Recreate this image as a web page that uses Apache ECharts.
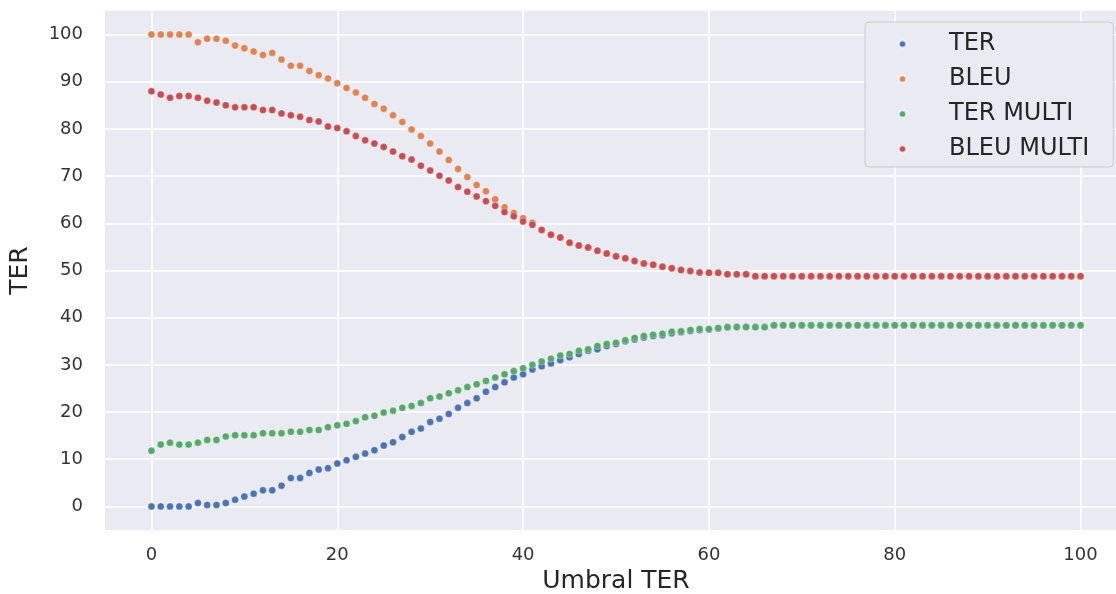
<!DOCTYPE html>
<html>
<head>
<meta charset="utf-8">
<title>TER / BLEU</title>
<script src="https://cdn.jsdelivr.net/npm/echarts@6/dist/echarts.min.js"></script>
<style>
  html, body { margin: 0; padding: 0; background: #ffffff; }
  #chart { width: 1116px; height: 594px; }
</style>
</head>
<body>
<div id="chart"></div>
<script>
// umbral TER (eje x)
var umbral = [
  0, 1, 2, 3, 4, 5, 6, 7, 8, 9,
  10, 11, 12, 13, 14, 15, 16, 17, 18, 19,
  20, 21, 22, 23, 24, 25, 26, 27, 28, 29,
  30, 31, 32, 33, 34, 35, 36, 37, 38, 39,
  40, 41, 42, 43, 44, 45, 46, 47, 48, 49,
  50, 51, 52, 53, 54, 55, 56, 57, 58, 59,
  60, 61, 62, 63, 64, 65, 66, 67, 68, 69,
  70, 71, 72, 73, 74, 75, 76, 77, 78, 79,
  80, 81, 82, 83, 84, 85, 86, 87, 88, 89,
  90, 91, 92, 93, 94, 95, 96, 97, 98, 99,
  100
];

var ter = [
  0, 0, 0, 0, 0, 0.7, 0.3, 0.3, 0.7, 1.4,
  2.1, 2.7, 3.4, 3.4, 4.4, 6.0, 6.0, 7.1, 7.8, 8.1,
  9.1, 9.8, 10.5, 11.2, 11.9, 12.9, 13.6, 14.7, 15.8, 16.5,
  17.9, 18.6, 19.6, 20.9, 21.9, 22.9, 24.3, 25.3, 26.3, 27.3,
  28.0, 29.0, 29.7, 30.3, 31.0, 31.6, 32.3, 33.0, 33.3, 34.0,
  34.4, 35.0, 35.4, 35.8, 36.1, 36.3, 36.7, 36.9, 37.2, 37.4,
  37.5, 37.7, 37.9, 38.0, 38.0, 38.0, 38.0, 38.4, 38.4, 38.4,
  38.4, 38.4, 38.4, 38.4, 38.4, 38.4, 38.4, 38.4, 38.4, 38.4,
  38.4, 38.4, 38.4, 38.4, 38.4, 38.4, 38.4, 38.4, 38.4, 38.4,
  38.4, 38.4, 38.4, 38.4, 38.4, 38.4, 38.4, 38.4, 38.4, 38.4,
  38.4
];

var bleu = [
  100, 100, 100, 100, 100, 98.4, 99.1, 99.1, 98.7, 97.7,
  97.1, 96.4, 95.7, 96.1, 94.7, 93.4, 93.4, 92.3, 91.4, 90.7,
  89.7, 88.7, 87.7, 86.6, 85.3, 84.3, 82.9, 81.5, 79.9, 78.5,
  76.9, 75.2, 73.4, 71.5, 69.8, 68.1, 66.8, 65.1, 63.4, 62.2,
  61.1, 60.1, 58.6, 57.6, 57.0, 55.9, 55.3, 54.9, 54.2, 53.6,
  53.0, 52.6, 52.0, 51.5, 51.2, 50.8, 50.5, 50.1, 49.9, 49.6,
  49.5, 49.5, 49.2, 49.2, 49.2, 48.8, 48.8, 48.8, 48.8, 48.8,
  48.8, 48.8, 48.8, 48.8, 48.8, 48.8, 48.8, 48.8, 48.8, 48.8,
  48.8, 48.8, 48.8, 48.8, 48.8, 48.8, 48.8, 48.8, 48.8, 48.8,
  48.8, 48.8, 48.8, 48.8, 48.8, 48.8, 48.8, 48.8, 48.8, 48.8,
  48.8
];

var terMulti = [
  11.8, 13.1, 13.5, 13.1, 13.1, 13.5, 14.1, 14.1, 14.8, 15.1,
  15.1, 15.1, 15.5, 15.5, 15.5, 15.8, 15.8, 16.2, 16.2, 16.8,
  17.2, 17.5, 18.1, 18.9, 19.2, 19.9, 20.3, 20.9, 21.3, 21.9,
  22.9, 23.3, 24.0, 24.6, 25.3, 25.9, 26.6, 27.3, 28.0, 28.7,
  29.3, 30.0, 30.7, 31.3, 32.0, 32.3, 33.0, 33.3, 34.0, 34.4,
  34.7, 35.2, 35.7, 36.1, 36.4, 36.6, 37.0, 37.1, 37.4, 37.6,
  37.6, 37.8, 38.0, 38.0, 38.0, 38.0, 38.0, 38.4, 38.4, 38.4,
  38.4, 38.4, 38.4, 38.4, 38.4, 38.4, 38.4, 38.4, 38.4, 38.4,
  38.4, 38.4, 38.4, 38.4, 38.4, 38.4, 38.4, 38.4, 38.4, 38.4,
  38.4, 38.4, 38.4, 38.4, 38.4, 38.4, 38.4, 38.4, 38.4, 38.4,
  38.4
];

var bleuMulti = [
  88.0, 87.3, 86.6, 87.0, 87.0, 86.6, 86.0, 85.6, 85.0, 84.6,
  84.6, 84.6, 84.0, 84.0, 83.3, 82.9, 82.6, 81.9, 81.6, 80.5,
  80.2, 79.5, 78.5, 77.6, 76.9, 76.2, 75.2, 74.2, 73.5, 72.2,
  71.2, 70.1, 69.1, 67.7, 66.7, 65.7, 64.7, 63.7, 62.4, 61.5,
  60.4, 59.7, 58.6, 57.6, 57.0, 55.9, 55.3, 54.9, 54.2, 53.6,
  53.0, 52.6, 52.0, 51.5, 51.2, 50.8, 50.5, 50.1, 49.9, 49.6,
  49.5, 49.5, 49.2, 49.2, 49.2, 48.8, 48.8, 48.8, 48.8, 48.8,
  48.8, 48.8, 48.8, 48.8, 48.8, 48.8, 48.8, 48.8, 48.8, 48.8,
  48.8, 48.8, 48.8, 48.8, 48.8, 48.8, 48.8, 48.8, 48.8, 48.8,
  48.8, 48.8, 48.8, 48.8, 48.8, 48.8, 48.8, 48.8, 48.8, 48.8,
  48.8
];

// ticks
var xTicks = [0, 20, 40, 60, 80, 100];
var yTicks = [0, 10, 20, 30, 40, 50, 60, 70, 80, 90, 100];

var seriesNames = ["TER", "BLEU", "TER MULTI", "BLEU MULTI"];
var seriesColors = ["#4C72B0", "#DD8452", "#55A868", "#C44E52"];
var seriesValues = [ter, bleu, terMulti, bleuMulti];

// pares [x, y] para cada serie
function pairs(values) {
  var out = [];
  for (var i = 0; i < umbral.length; i++) {
    out.push([umbral[i], values[i]]);
  }
  return out;
}

var chart = echarts.init(document.getElementById("chart"));

var series = [];
for (var s = 0; s < seriesNames.length; s++) {
  series.push({
    name: seriesNames[s],
    type: "scatter",
    data: pairs(seriesValues[s]),
    symbol: "circle",
    symbolSize: 7,
    itemStyle: {
      color: seriesColors[s],
      opacity: 1,
      borderColor: "rgba(255,255,255,0.6)",
      borderWidth: 0.5,
    },
    emphasis: { disabled: true },
  });
}

var tickFont = {
  color: "#333333",
  fontFamily: "DejaVu Sans",
  fontSize: 18,
};

var option = {
  animation: false,
  backgroundColor: "#ffffff",
  grid: {
    left: 105,
    top: 11,
    width: 1022,
    height: 519,
    outerBoundsMode: "none", // que no encoja el área del gráfico
    containLabel: false,
    backgroundColor: "#EAEAF2",
    show: true,
    borderWidth: 0,
  },
  legend: {
    data: seriesNames,
    orient: "vertical",
    left: 865,
    top: 22,
    padding: [10, 24, 6, 33],
    icon: "circle",
    itemWidth: 7,
    itemHeight: 7,
    itemGap: 11,
    backgroundColor: "#EAEAF2",
    borderColor: "#CCCCCC",
    borderWidth: 1,
    borderRadius: 4,
    textStyle: {
      color: "#262626",
      fontFamily: "DejaVu Sans",
      fontSize: 24,
      lineHeight: 24,
      padding: [0, 0, 0, 38],
    },
  },
  xAxis: {
    type: "value",
    min: -5,
    max: 105,
    name: "Umbral TER",
    nameLocation: "middle",
    nameGap: 36,
    nameTextStyle: {
      color: "#262626",
      fontFamily: "DejaVu Sans",
      fontSize: 25,
    },
    axisLine: { show: false },
    axisTick: { show: false, customValues: xTicks },
    axisLabel: Object.assign({ margin: 16, customValues: xTicks }, tickFont),
    splitLine: { show: true, lineStyle: { color: "#ffffff", width: 1.5 } },
  },
  yAxis: {
    type: "value",
    min: -5,
    max: 105,
    name: "TER",
    nameLocation: "middle",
    nameGap: 72,
    nameTextStyle: {
      color: "#262626",
      fontFamily: "DejaVu Sans",
      fontSize: 25,
    },
    axisLine: { show: false },
    axisTick: { show: false, customValues: yTicks },
    axisLabel: Object.assign({ margin: 22, customValues: yTicks }, tickFont),
    splitLine: { show: true, lineStyle: { color: "#ffffff", width: 1.5 } },
  },
  series: series,
};

chart.setOption(option);
</script>
</body>
</html>
